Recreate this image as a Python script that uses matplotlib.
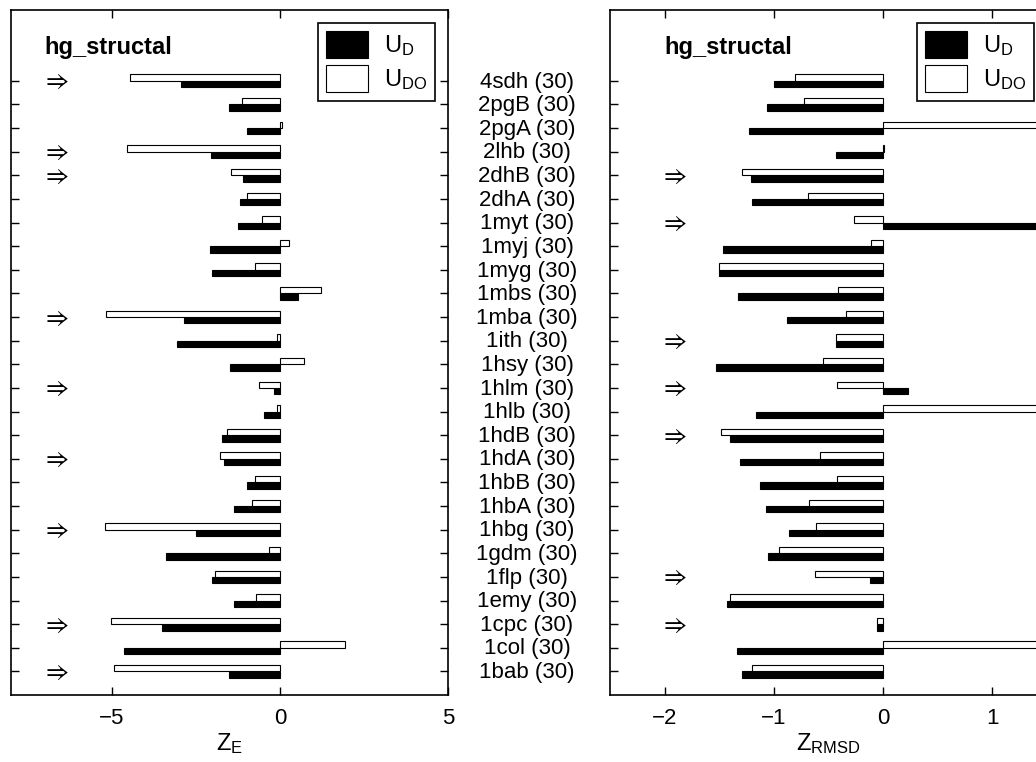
import matplotlib
matplotlib.use('Agg')
import matplotlib.pyplot as plt
import matplotlib.transforms as mtransforms

plt.rcParams['font.family'] = ['Liberation Sans', 'DejaVu Sans']
plt.rcParams['mathtext.fontset'] = 'custom'
plt.rcParams['mathtext.rm'] = 'Liberation Sans'
plt.rcParams['mathtext.it'] = 'Liberation Sans:italic'

# proteine, von oben nach unten
names = ['4sdh', '2pgB', '2pgA', '2lhb', '2dhB', '2dhA', '1myt', '1myj', '1myg',
         '1mbs', '1mba', '1ith', '1hsy', '1hlm', '1hlb', '1hdB', '1hdA', '1hbB',
         '1hbA', '1hbg', '1gdm', '1flp', '1emy', '1cpc', '1col', '1bab']
counts = [30] * len(names)

# Z_E
ud_E = [-2.93, -1.52, -0.98, -2.05, -1.10, -1.20, -1.24, -2.07, -2.02, 0.54,
        -2.85, -3.06, -1.50, -0.18, -0.47, -1.72, -1.66, -0.98, -1.38, -2.51,
        -3.38, -2.02, -1.37, -3.52, -4.63, -1.51]
udo_E = [-4.46, -1.14, 0.05, -4.56, -1.47, -0.99, -0.52, 0.28, -0.75, 1.23,
         -5.17, -0.10, 0.72, -0.63, -0.10, -1.58, -1.79, -0.74, -0.82, -5.21,
         -0.32, -1.92, -0.70, -5.03, 1.94, -4.95]

# Z_RMSD
ud_R = [-1.00, -1.06, -1.23, -0.43, -1.21, -1.20, 1.80, -1.47, -1.50, -1.33,
        -0.88, -0.43, -1.53, 0.23, -1.16, -1.40, -1.31, -1.13, -1.07, -0.86,
        -1.05, -0.12, -1.43, -0.06, -1.34, -1.29]
udo_R = [-0.81, -0.72, 2.00, 0.01, -1.29, -0.69, -0.27, -0.11, -1.50, -0.41,
         -0.34, -0.43, -0.55, -0.42, 2.20, -1.48, -0.58, -0.42, -0.68, -0.61,
         -0.95, -0.62, -1.40, -0.06, 1.90, -1.20]

# markierte zeilen (pfeile)
flag_E = ['4sdh', '2lhb', '2dhB', '1mba', '1hlm', '1hdA', '1hbg', '1cpc', '1bab']
flag_R = ['2dhB', '1myt', '1ith', '1hlm', '1hdB', '1flp', '1cpc']

title = 'hg_structal'


def panel(ax, ud, udo, flags, xlim, xticks, arrow_x, title_x, xlabel):
    n = len(names)
    y = [n - i for i in range(n)]
    h = 0.27
    ax.barh([v - h / 2 for v in y], ud, height=h, color='black',
            edgecolor='black', linewidth=0.8, label=r'$\mathrm{U_D}$')
    ax.barh([v + h / 2 for v in y], udo, height=h, color='white',
            edgecolor='black', linewidth=0.8, label=r'$\mathrm{U_{DO}}$')

    for name in flags:
        yy = n - names.index(name)
        ax.text(arrow_x, yy - 0.1, '\u21d2', family=['STIXGeneral', 'DejaVu Sans'],
                fontsize=18, ha='center', va='center')

    ax.text(title_x, n + 1.15, title, fontsize=17, fontweight='bold',
            ha='left', va='baseline')

    ax.set_xlim(*xlim)
    ax.set_ylim(0, n + 3)
    ax.set_xticks(xticks)
    ax.set_xticklabels([('\u2212%d' % -t) if t < 0 else '%d' % t for t in xticks])
    ax.set_yticks(y)
    ax.set_yticklabels([])
    ax.tick_params(direction='in', length=6, width=1, top=True, right=True,
                   labelsize=16, pad=9)
    for sp in ax.spines.values():
        sp.set_linewidth(1.2)
    ax.set_xlabel(xlabel, fontsize=17, labelpad=2)

    leg = ax.legend(loc='upper right', bbox_to_anchor=(0.971, 0.981),
                    borderaxespad=0, fontsize=17, handlelength=1.8,
                    handleheight=1.35, handletextpad=0.65, labelspacing=0.3,
                    borderpad=0.35, fancybox=False, framealpha=1)
    leg.get_frame().set_edgecolor('black')
    leg.get_frame().set_linewidth(1.2)


fig = plt.figure(figsize=(10.36, 7.62), dpi=100)
W, H = 1036.0, 762.0
ax1 = fig.add_axes([11 / W, 67 / H, 437 / W, 685 / H])
ax2 = fig.add_axes([610 / W, 67 / H, 437 / W, 685 / H])

panel(ax1, ud_E, udo_E, flag_E, (-8, 5), [-5, 0, 5], -6.63, -7.0,
      r'$\mathrm{Z_E}$')
panel(ax2, ud_R, udo_R, flag_R, (-2.5, 1.5), [-2, -1, 0, 1], -1.9, -2.0,
      r'$\mathrm{Z_{RMSD}}$')

# namen in der mitte
trans = mtransforms.blended_transform_factory(fig.transFigure, ax1.transData)
n = len(names)
for i, (name, c) in enumerate(zip(names, counts)):
    fig.text(527 / W, n - i - 0.05, '%s (%d)' % (name, c), transform=trans,
             fontsize=16, ha='center', va='center')

fig.savefig('out.png', dpi=100)
